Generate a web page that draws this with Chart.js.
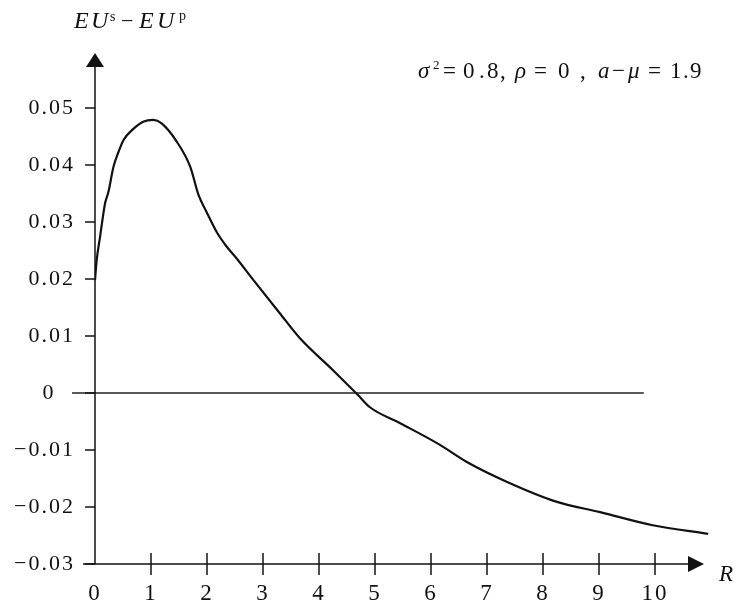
<!DOCTYPE html>
<html><head><meta charset="utf-8">
<script src="https://cdn.jsdelivr.net/npm/chart.js@4.4.0/dist/chart.umd.min.js"></script>
<style>html,body{margin:0;padding:0;background:#fff}#wrap{width:737px;height:605px}</style>
</head><body><div id="wrap"><canvas id="c" width="737" height="605"></canvas></div>
<script>
// ---- data ----
const curveR = [0, 0.03, 0.09, 0.15, 0.18, 0.24, 0.33, 0.42, 0.51, 0.68, 0.86, 1.04, 1.19, 1.46, 1.70, 1.85, 1.99, 2.17, 2.35, 2.53, 2.83, 3.30, 3.66, 4.25, 4.70, 4.91, 5.45, 6.16, 6.64, 7.36, 8.25, 9.02, 9.96, 10.95];
const curveV = [0.0198, 0.0233, 0.0274, 0.0315, 0.0333, 0.0353, 0.0397, 0.0423, 0.0444, 0.0463, 0.0476, 0.0479, 0.0473, 0.0441, 0.0397, 0.0347, 0.0318, 0.0283, 0.0257, 0.0236, 0.0198, 0.0140, 0.0096, 0.0040, -0.0004, -0.0025, -0.0053, -0.0091, -0.0121, -0.0156, -0.0191, -0.0209, -0.0232, -0.0247];
const zeroR = [-0.41, 9.8];
const zeroV = [0, 0];
const xTicks = [0, 1, 2, 3, 4, 5, 6, 7, 8, 9, 10];
const xTickLabels = ['0', '1', '2', '3', '4', '5', '6', '7', '8', '9', '10'];
const yTicks = [-0.03, -0.02, -0.01, 0, 0.01, 0.02, 0.03, 0.04, 0.05];
const yTickLabels = ['\u22120.03', '\u22120.02', '\u22120.01', '0', '0.01', '0.02', '0.03', '0.04', '0.05'];

const SERIF = '"Liberation Serif", "DejaVu Serif", serif';

function drawRuns(ctx, runs) {
  runs.forEach(r => {
    ctx.font = r.f;
    ctx.fillText(r.t, r.x, r.y);
  });
}

const decor = {
  id: 'decor',
  beforeDraw(chart) { chart.ctx.letterSpacing = '2px'; },
  afterDatasetsDraw(chart) {
    const {ctx, scales: {x, y}, chartArea} = chart;
    const x0 = x.getPixelForValue(0);
    const yb = y.getPixelForValue(-0.03);
    const yTop = chartArea.top + 2;
    const xTip = x.getPixelForValue(10.875);
    ctx.save();
    ctx.letterSpacing = '0px';
    ctx.strokeStyle = '#111'; ctx.fillStyle = '#111'; ctx.lineWidth = 1.5;
    const line = (a, b, c, d) => { ctx.beginPath(); ctx.moveTo(a, b); ctx.lineTo(c, d); ctx.stroke(); };
    line(x0, yb, x0, yTop + 12);
    ctx.beginPath(); ctx.moveTo(x0, yTop); ctx.lineTo(x0 - 9, yTop + 14); ctx.lineTo(x0 + 9, yTop + 14); ctx.closePath(); ctx.fill();
    line(x0 - 12, yb, xTip - 12, yb);
    ctx.beginPath(); ctx.moveTo(xTip, yb); ctx.lineTo(xTip - 16, yb - 8); ctx.lineTo(xTip - 16, yb + 8); ctx.closePath(); ctx.fill();
    yTicks.forEach(v => { const p = y.getPixelForValue(v); line(x0 - 10, p, x0, p); });
    xTicks.forEach(v => { if (v === 0) return; const p = x.getPixelForValue(v); line(p, yb - 11, p, yb + 11); });

    ctx.textAlign = 'left'; ctx.textBaseline = 'alphabetic';
    const it = s => 'italic ' + s + 'px ' + SERIF;
    const up = s => s + 'px ' + SERIF;
    // axis titles
    drawRuns(ctx, [
      {t: 'E', f: it(24), x: 74, y: 28}, {t: 'U', f: it(24), x: 91, y: 28},
      {t: 's', f: up(14), x: 110, y: 21},
      {t: '\u2212', f: up(22), x: 121, y: 28},
      {t: 'E', f: it(24), x: 139, y: 28}, {t: 'U', f: it(24), x: 157, y: 28},
      {t: 'p', f: up(14), x: 179, y: 20},
      {t: 'R', f: it(23), x: 719, y: 581}
    ]);
    // parameter annotation
    const by = 78;
    drawRuns(ctx, [
      {t: '\u03C3', f: it(23), x: 418, y: by},
      {t: '2', f: up(13), x: 433, y: by - 9},
      {t: '=', f: up(23), x: 443, y: by},
      {t: '0', f: up(23), x: 463, y: by}, {t: '.', f: up(23), x: 479, y: by},
      {t: '8', f: up(23), x: 487, y: by}, {t: ',', f: up(23), x: 500, y: by},
      {t: '\u03C1', f: it(23), x: 515, y: by},
      {t: '=', f: up(23), x: 534, y: by},
      {t: '0', f: up(23), x: 558, y: by},
      {t: ',', f: up(23), x: 580, y: by},
      {t: 'a', f: it(23), x: 598, y: by},
      {t: '\u2212', f: up(23), x: 612, y: by},
      {t: '\u03BC', f: it(23), x: 628, y: by},
      {t: '=', f: up(23), x: 648, y: by},
      {t: '1', f: up(23), x: 670, y: by}, {t: '.', f: up(23), x: 683, y: by},
      {t: '9', f: up(23), x: 690, y: by}
    ]);
    ctx.restore();
  }
};

new Chart(document.getElementById('c'), {
  type: 'scatter',
  data: {
    datasets: [
      {
        data: curveR.map((r, i) => ({x: r, y: curveV[i]})),
        showLine: true, borderColor: '#111', borderWidth: 2.2, pointRadius: 0,
        cubicInterpolationMode: 'monotone', fill: false
      },
      {
        data: zeroR.map((r, i) => ({x: r, y: zeroV[i]})),
        showLine: true, borderColor: '#222', borderWidth: 1.5, pointRadius: 0, clip: false
      }
    ]
  },
  options: {
    responsive: false, devicePixelRatio: 1, animation: false,
    layout: {padding: {left: 0, right: 26, top: 51, bottom: 0}},
    plugins: {legend: {display: false}, tooltip: {enabled: false}},
    scales: {
      x: {
        type: 'linear', min: 0, max: 11,
        afterBuildTicks: s => { s.ticks = xTicks.map(v => ({value: v})); },
        afterFit: s => { s.height = 41; },
        ticks: {callback: (v, i) => xTickLabels[i], font: {family: SERIF, size: 23}, color: '#111', padding: 16, maxRotation: 0, autoSkip: false},
        grid: {display: false, drawTicks: false}, border: {display: false}
      },
      y: {
        min: -0.03, max: 0.06,
        afterBuildTicks: s => { s.ticks = yTicks.map(v => ({value: v})); },
        afterFit: s => { s.width = 95; },
        ticks: {
          callback: (v, i) => yTickLabels[i] === '0' ? yTickLabels[i] + '\u2002\u2009' : yTickLabels[i],
          font: {family: SERIF, size: 22}, color: '#111', padding: 20, autoSkip: false
        },
        grid: {display: false, drawTicks: false}, border: {display: false}
      }
    }
  },
  plugins: [decor]
});
</script></body></html>
